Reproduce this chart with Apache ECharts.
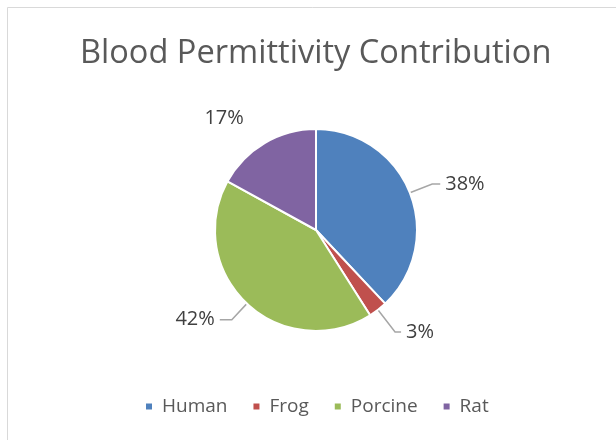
<!DOCTYPE html>
<html><head><meta charset="utf-8">
<script src="https://cdn.jsdelivr.net/npm/echarts@6/dist/echarts.min.js"></script>
<style>html,body{margin:0;padding:0;background:#fff}#c{width:616px;height:440px}</style>
</head><body><div id="c"></div>
<script>
const categories = ['Human', 'Frog', 'Porcine', 'Rat'];
const values = [38, 3, 42, 17];
const colors = ['#4F81BD', '#C0504D', '#9BBB59', '#8064A2'];
const titleText = 'Blood Permittivity Contribution';

const lineLens = [[24, 8], [28, 6], [22, 12], [29, 1]];

const chart = echarts.init(document.getElementById('c'), null, {renderer: 'canvas'});
chart.setOption({
  backgroundColor: '#fff',
  animation: false,
  color: colors,
  title: {
    text: titleText, left: 75, top: 32,
    textStyle: {fontFamily: 'Open Sans', fontSize: 32.6, fontWeight: 'normal', color: '#595959'}
  },
  legend: {
    top: 392, left: 139, itemWidth: 8, itemHeight: 8, itemGap: 24, icon: 'rect',
    textStyle: {fontFamily: 'Open Sans', fontSize: 19, color: '#595959', padding: [0, 0, 0, 4]},
    data: categories
  },
  graphic: [{type: 'rect', shape: {x: 7.5, y: 7.5, width: 620, height: 440},
    style: {fill: 'none', stroke: '#d9d9d9', lineWidth: 1}, silent: true}],
  series: [{
    type: 'pie', center: [316, 230], radius: 101, startAngle: 90, clockwise: true,
    itemStyle: {borderColor: '#fff', borderWidth: 2},
    label: {show: true, position: 'outside', formatter: '{d}%', fontFamily: 'Open Sans', fontSize: 20, color: '#404040'},
    labelLine: {show: true, length: 24, length2: 9, lineStyle: {color: '#a6a6a6', width: 1.5}},
    data: categories.map((n, i) => ({
      name: n, value: values[i],
      labelLine: {show: n !== 'Rat', length: lineLens[i][0], length2: lineLens[i][1]}
    }))
  }]
});
</script></body></html>
